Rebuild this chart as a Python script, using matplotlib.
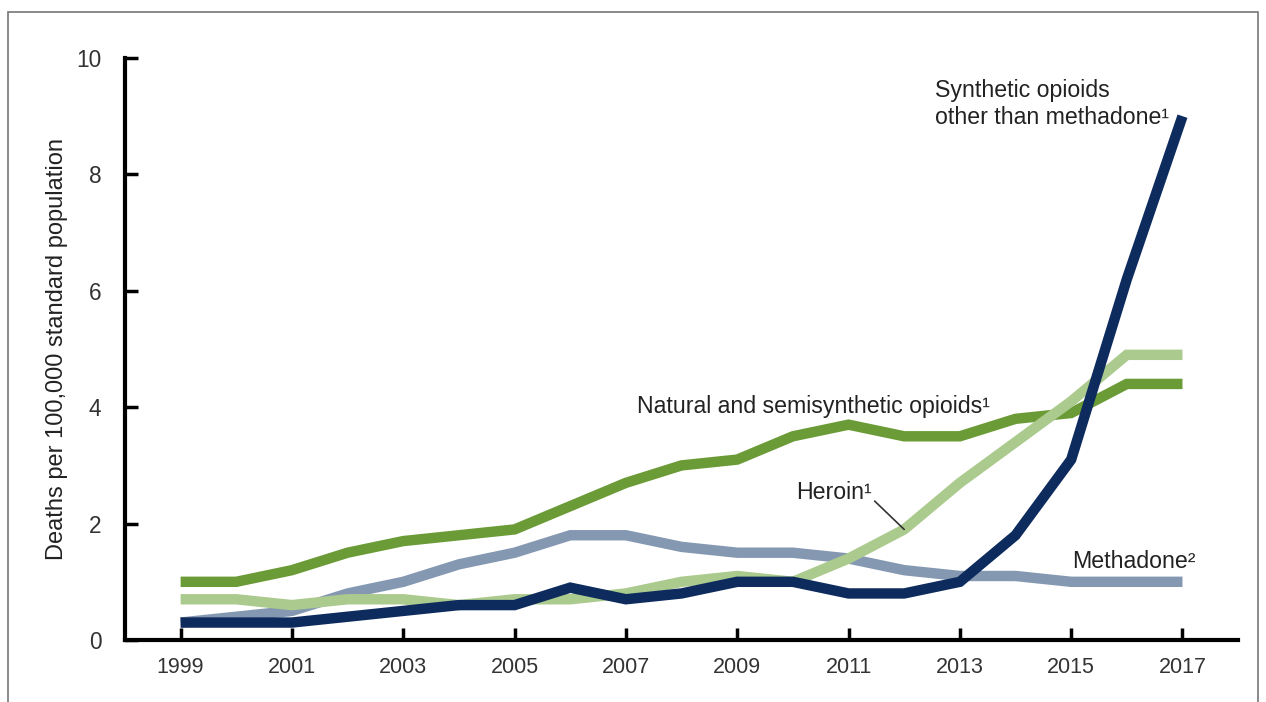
import matplotlib
matplotlib.use("Agg")
import matplotlib.pyplot as plt
from matplotlib.patches import Rectangle

plt.rcParams['font.family'] = ['Liberation Sans', 'DejaVu Sans']

years = list(range(1999, 2018))
natural = [1.0, 1.0, 1.2, 1.5, 1.7, 1.8, 1.9, 2.3, 2.7, 3.0, 3.1, 3.5, 3.7, 3.5, 3.5, 3.8, 3.9, 4.4, 4.4]
methadone = [0.3, 0.4, 0.5, 0.8, 1.0, 1.3, 1.5, 1.8, 1.8, 1.6, 1.5, 1.5, 1.4, 1.2, 1.1, 1.1, 1.0, 1.0, 1.0]
heroin = [0.7, 0.7, 0.6, 0.7, 0.7, 0.6, 0.7, 0.7, 0.8, 1.0, 1.1, 1.0, 1.4, 1.9, 2.7, 3.4, 4.1, 4.9, 4.9]
synthetic = [0.3, 0.3, 0.3, 0.4, 0.5, 0.6, 0.6, 0.9, 0.7, 0.8, 1.0, 1.0, 0.8, 0.8, 1.0, 1.8, 3.1, 6.2, 9.0]

xticks = list(range(1999, 2018, 2))
yticks = [0, 2, 4, 6, 8, 10]

fig = plt.figure(figsize=(12.66, 7.02), dpi=100)
ax = fig.add_axes([0.0987, 0.0883, 0.978 - 0.0987, 0.9174 - 0.0883])

# bottom to top: natural, methadone, heroin, synthetic
lw = 7.5
ax.plot(years, natural, color='#6b9b36', lw=lw, solid_joinstyle='miter', solid_capstyle='butt')
ax.plot(years, methadone, color='#8598b2', lw=lw, solid_joinstyle='miter', solid_capstyle='butt')
ax.plot(years, heroin, color='#abca8d', lw=lw, solid_joinstyle='miter', solid_capstyle='butt')
ax.plot(years, synthetic, color='#0e2b5e', lw=lw, solid_joinstyle='miter', solid_capstyle='butt')

ax.set_xlim(1998.0, 2018.0)
ax.set_ylim(0, 10)
ax.set_xticks(xticks)
ax.set_yticks(yticks)
ax.tick_params(direction='in', length=9, width=2.5, colors='black', labelcolor='#333333', labelsize=15.5)
ax.tick_params(axis='x', pad=12)
ax.tick_params(axis='y', pad=17, labelsize=16.3)
for s in ['top', 'right']:
    ax.spines[s].set_visible(False)
for s in ['left', 'bottom']:
    ax.spines[s].set_linewidth(3)
ax.set_ylabel('Deaths per 100,000 standard population', fontsize=17, color='#222222', labelpad=6)

tc = '#222222'
fs = 16.7
ax.text(2012.55, 9.64, 'Synthetic opioids\nother than methadone¹', fontsize=fs, color=tc,
        va='top', ha='left', linespacing=1.25)
ax.text(2007.2, 3.90, 'Natural and semisynthetic opioids¹', fontsize=fs, color=tc, va='baseline', ha='left')
ax.annotate('Heroin¹', xy=(2012, 1.9), xytext=(2011.42, 2.42), fontsize=fs, color=tc,
            ha='right', va='baseline',
            arrowprops=dict(arrowstyle='-', color='#333333', lw=1.2, shrinkA=0, shrinkB=0, relpos=(1.0, 0.25)))
ax.text(2015.01, 1.24, 'Methadone²', fontsize=fs, color=tc, va='baseline', ha='left')

fig.patches.append(Rectangle((8 / 1266, -0.1), 1250 / 1266, 1.1 - 12 / 702, transform=fig.transFigure,
                             fill=False, edgecolor='#777777', lw=1.2))

fig.savefig('out.png', dpi=100)
